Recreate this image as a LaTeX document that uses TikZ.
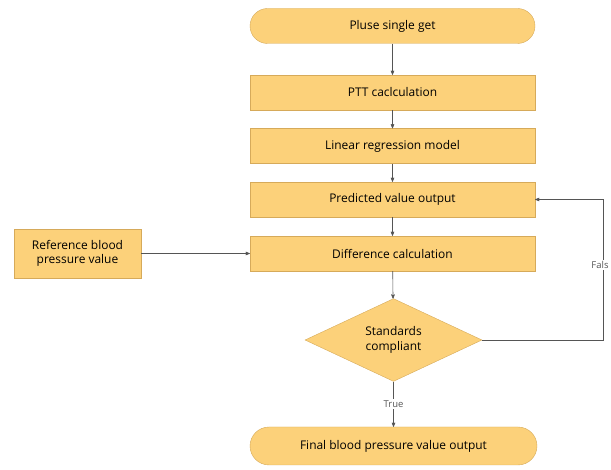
\documentclass[tikz,border=0pt]{standalone}
\usepackage{fontspec}
\setmainfont{Open Sans}
\usetikzlibrary{arrows,positioning,shapes.geometric}
\definecolor{boxfill}{RGB}{252,209,122}
\definecolor{boxline}{RGB}{214,170,90}
\definecolor{linecol}{RGB}{85,85,85}
\tikzset{
  stepbox/.style={draw=boxline,fill=boxfill,minimum width=285bp,minimum height=35bp,inner sep=2bp,font=\fontsize{12}{14.5}\selectfont},
  termbox/.style={stepbox,rounded corners=17.5bp},
  decide/.style={draw=boxline,fill=boxfill,diamond,minimum width=177bp,minimum height=64bp,inner sep=0bp,align=center,font=\fontsize{12}{14.5}\selectfont},
  flow/.style={->,draw=linecol,line width=0.6bp}
}
\begin{document}
\begin{tikzpicture}[>=stealth']
%%
  \useasboundingbox (0bp,0bp) rectangle (611bp,470bp);
  \node (get) at (392.5bp,444.0bp) [termbox] {Pluse single get};
  \node (ptt) at (392.5bp,377.5bp) [stepbox] {PTT caclculation};
  \node (lin) at (392.5bp,324.0bp) [stepbox] {Linear regression model};
  \node (pred) at (392.5bp,270.5bp) [stepbox] {Predicted value output};
  \node (diff) at (392.5bp,216.5bp) [stepbox] {Difference calculation};
  \node (ref) at (77.5bp,216.5bp) [stepbox,minimum width=127bp,minimum height=49bp,align=center] {Reference blood\\pressure value};
  \node (cmp) at (393.5bp,130.0bp) [decide] {Standards\\compliant};
  \node (out) at (393.5bp,24.0bp) [termbox,minimum width=287bp,minimum height=38bp,rounded corners=19bp] {Final blood pressure value output};
  \coordinate (fr) at (603.5bp,130.0bp);
  \coordinate (fu) at (603.5bp,270.5bp);
%
  \draw [flow] (get) -- (ptt);
  \draw [flow] (ptt) -- (lin);
  \draw [flow] (lin) -- (pred);
  \draw [flow] (pred) -- (diff);
  \draw [flow] (ref) -- (diff);
  \draw [flow] (diff) -- (cmp);
  \draw [flow] (cmp) -- node [fill=white,inner sep=1.5bp,text=linecol,font=\fontsize{9.5}{11}\selectfont] {True} (out);
  \draw [flow] (cmp.east) -- (fr) -- (fu) -- (pred.east);
  \draw (600bp,205.0bp) node [fill=white,inner sep=1bp,text=linecol,font=\fontsize{9.5}{11}\selectfont] {Fals};
%
\end{tikzpicture}
\end{document}
